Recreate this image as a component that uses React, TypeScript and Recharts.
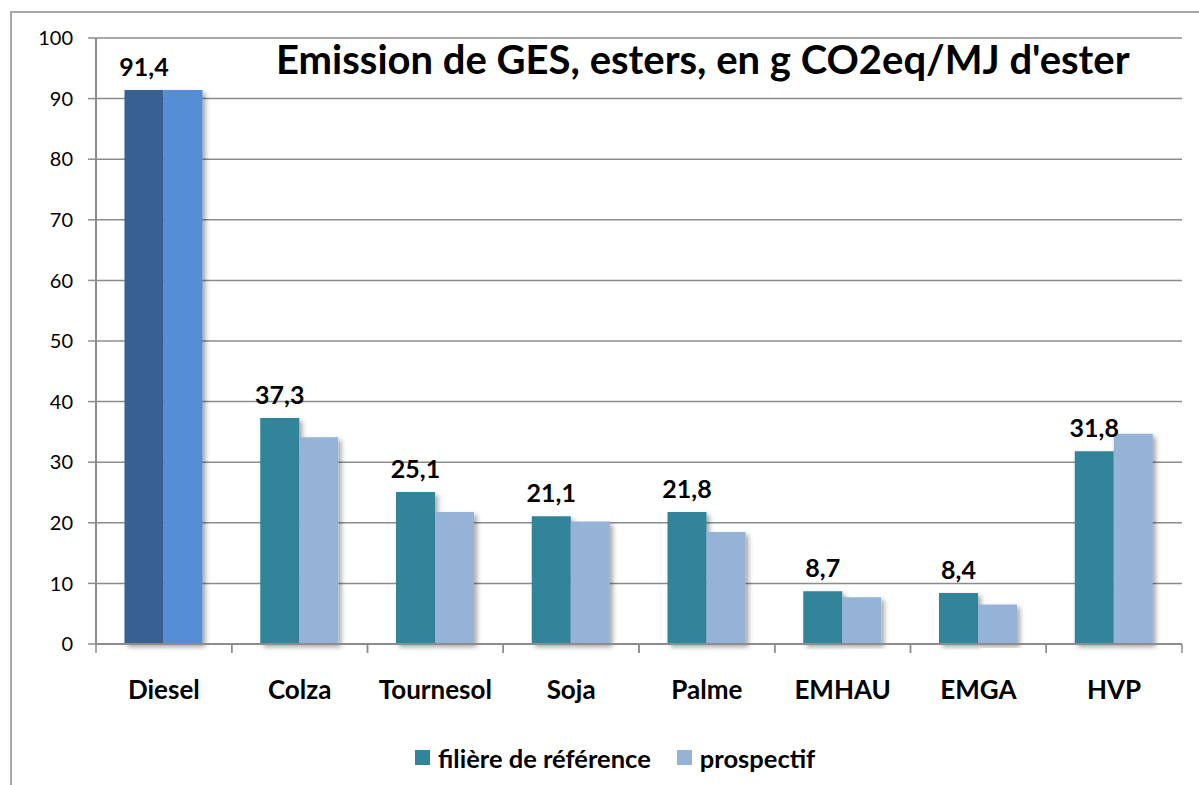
import { BarChart, Bar, XAxis, YAxis, CartesianGrid, Legend, LabelList, Cell } from 'recharts'

const categories = ['Diesel', 'Colza', 'Tournesol', 'Soja', 'Palme', 'EMHAU', 'EMGA', 'HVP']
const referenceValues = [91.4, 37.3, 25.1, 21.1, 21.8, 8.7, 8.4, 31.8]
const prospectifValues = [91.4, 34.1, 21.8, 20.2, 18.5, 7.7, 6.5, 34.7]
const yTicks = [0, 10, 20, 30, 40, 50, 60, 70, 80, 90, 100]

const data = categories.map((name, i) => ({
  name,
  reference: referenceValues[i],
  prospectif: prospectifValues[i],
}))

const FONT = 'Lato, "Open Sans", sans-serif'
const GRID = '#8c8c8c'
const REF_COLOR = '#31849b'
const PROS_COLOR = '#95b3d7'
const DIESEL_COLORS = ['#376092', '#558ed5']

const W = 1199
const H = 785
const MARGIN = { top: 38, right: 17, left: 0, bottom: 12 }
const Y_WIDTH = 96
const BAND = (W - MARGIN.right - MARGIN.left - Y_WIDTH) / categories.length

const fmt = (v: number) => v.toFixed(1).replace('.', ',')

function CategoryTick({ x, y, payload }: any) {
  const half = BAND / 2
  return (
    <g>
      <line x1={x - half} x2={x - half} y1={y} y2={y + 9} stroke={GRID} strokeWidth={1.5} />
      <line x1={x + half} x2={x + half} y1={y} y2={y + 9} stroke={GRID} strokeWidth={1.5} />
      <text x={x} y={y + 55} textAnchor="middle" fontFamily={FONT} fontWeight="bold" fontSize={26} fill="#000">
        {payload.value}
      </text>
    </g>
  )
}

function LegendContent({ payload }: any) {
  return (
    <div style={{ display: 'flex', justifyContent: 'flex-start', paddingLeft: 415, height: 31, alignItems: 'center' }}>
      {(payload || []).map((entry: any, i: number) => (
        <div key={i} style={{ display: 'flex', alignItems: 'center', marginRight: 26 }}>
          <span style={{ display: 'inline-block', width: 15, height: 15, background: entry.color, marginRight: 8 }} />
          <span style={{ fontFamily: FONT, fontWeight: 'bold', fontSize: 25.5, color: '#000' }}>{entry.value}</span>
        </div>
      ))}
    </div>
  )
}

export default function App() {
  return (
    <div style={{ position: 'fixed', left: 0, top: 0, width: W, height: H, overflow: 'hidden', background: '#fff' }}>
      <div
        style={{
          position: 'absolute',
          left: 10,
          top: 11,
          width: 1300,
          height: 900,
          borderLeft: '2px solid #a6a6a6',
          borderTop: '2px solid #a6a6a6',
        }}
      />
      <div style={{ position: 'absolute', left: 0, top: 0 }}>
        <BarChart width={W} height={H} data={data} margin={MARGIN} barCategoryGap="21%" barGap={0}>
          <defs>
            <filter id="barShadow" x="-20%" y="-5%" width="150%" height="115%">
              <feDropShadow dx="3" dy="3" stdDeviation="2.5" floodColor="#000" floodOpacity="0.35" />
            </filter>
          </defs>
          <CartesianGrid vertical={false} stroke={GRID} strokeWidth={1.5} />
          <XAxis
            dataKey="name"
            height={98}
            tickLine={false}
            tickSize={0}
            tickMargin={0}
            axisLine={{ stroke: GRID, strokeWidth: 2 }}
            tick={<CategoryTick />}
            interval={0}
          />
          <YAxis
            width={Y_WIDTH}
            domain={[0, 100]}
            ticks={yTicks}
            interval={0}
            tickSize={8}
            tickMargin={15}
            tickLine={{ stroke: GRID, strokeWidth: 1.5 }}
            axisLine={{ stroke: GRID, strokeWidth: 2 }}
            tick={{ fontSize: 20, fill: '#000', fontFamily: FONT }}
          />
          <Legend verticalAlign="bottom" align="left" content={<LegendContent />} />
          <Bar
            dataKey="reference"
            name="filière de référence"
            fill={REF_COLOR}
            isAnimationActive={false}
            filter="url(#barShadow)"
          >
            {data.map((_, i) => (
              <Cell key={i} fill={i === 0 ? DIESEL_COLORS[0] : REF_COLOR} />
            ))}
            <LabelList
              dataKey="reference"
              position="top"
              offset={14}
              formatter={(v: number) => fmt(v)}
              style={{ fontFamily: FONT, fontWeight: 'bold', fontSize: 25, fill: '#000' }}
            />
          </Bar>
          <Bar
            dataKey="prospectif"
            name="prospectif"
            fill={PROS_COLOR}
            isAnimationActive={false}
            filter="url(#barShadow)"
          >
            {data.map((_, i) => (
              <Cell key={i} fill={i === 0 ? DIESEL_COLORS[1] : PROS_COLOR} />
            ))}
          </Bar>
        </BarChart>
      </div>
      <div
        style={{
          position: 'absolute',
          left: 276,
          top: 35,
          fontFamily: FONT,
          fontWeight: 'bold',
          fontSize: 40,
          lineHeight: '48px',
          color: '#000',
          whiteSpace: 'nowrap',
        }}
      >
        Emission de GES, esters, en g CO2eq/MJ d'ester
      </div>
    </div>
  )
}
